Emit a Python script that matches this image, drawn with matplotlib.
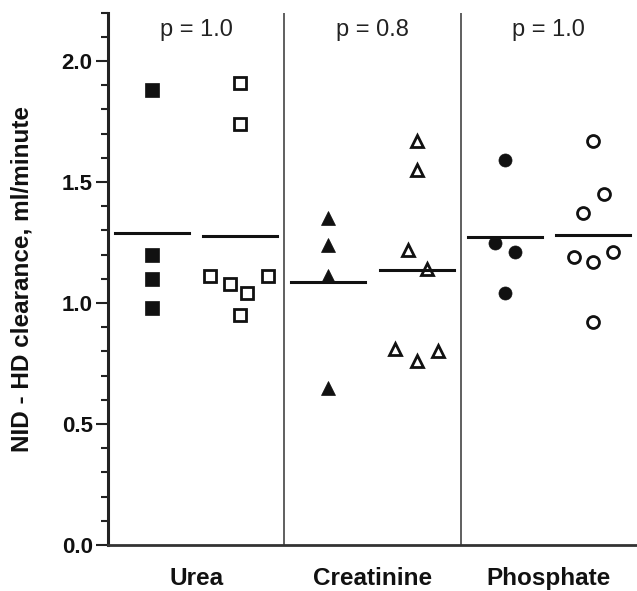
import matplotlib
matplotlib.use("Agg")
import matplotlib.pyplot as plt
import numpy as np
from matplotlib.ticker import MultipleLocator

plt.rcParams['font.family'] = ['Liberation Sans', 'DejaVu Sans']

categories = ['Urea', 'Creatinine', 'Phosphate']
p_labels = ['p = 1.0', 'p = 0.8', 'p = 1.0']

urea_filled = [1.88, 1.20, 1.10, 0.98]
urea_open = [1.91, 1.74, 1.11, 1.08, 1.04, 1.11, 0.95]
creat_filled = [1.35, 1.24, 1.11, 0.65]
creat_open = [1.67, 1.55, 1.22, 1.14, 0.81, 0.76, 0.80]
phos_filled = [1.59, 1.25, 1.21, 1.04]
phos_open = [1.67, 1.45, 1.37, 1.19, 1.17, 1.21, 0.92]

# horizontal jitter of the points within each column
urea_filled_dx = [0, 0, 0, 0]
urea_open_dx = [0, 0, -0.17, -0.06, 0.04, 0.16, 0]
creat_filled_dx = [0, 0, 0, 0]
creat_open_dx = [0, 0, -0.05, 0.06, -0.12, 0, 0.12]
phos_filled_dx = [0, -0.055, 0.06, 0]
phos_open_dx = [0, 0.065, -0.055, -0.11, 0, 0.115, 0]

filled = [urea_filled, creat_filled, phos_filled]
opened = [urea_open, creat_open, phos_open]
filled_dx = [urea_filled_dx, creat_filled_dx, phos_filled_dx]
open_dx = [urea_open_dx, creat_open_dx, phos_open_dx]
markers = ['s', '^', 'o']

fig = plt.figure(figsize=(6.37, 5.91), dpi=100)
ax = fig.add_axes([0.1695, 0.0778, 0.8305, 0.9009])

for i in range(3):
    cf = i + 0.25
    co = i + 0.75
    xf = cf + np.array(filled_dx[i])
    xo = co + np.array(open_dx[i])
    ax.plot(xf, filled[i], linestyle='none', marker=markers[i], ms=9.4,
            mfc='#111111', mec='#111111', mew=0.5, zorder=3)
    ax.plot(xo, opened[i], linestyle='none', marker=markers[i], ms=8.6,
            mfc='white', mec='#111111', mew=2.0, zorder=3)
    ax.plot([cf - 0.21, cf + 0.21], [np.mean(filled[i])] * 2, color='#111111', lw=2.2, zorder=4)
    ax.plot([co - 0.21, co + 0.21], [np.mean(opened[i])] * 2, color='#111111', lw=2.2, zorder=4)
    ax.text(i + 0.5, 2.105, p_labels[i], ha='center', va='baseline', fontsize=17, color='#222222')

for xv in [1, 2]:
    ax.axvline(xv, color='#444444', lw=1.2, zorder=1)

ax.set_xlim(0, 3)
ax.set_ylim(0, 2.2)
ax.set_xticks([0.5, 1.5, 2.5])
ax.set_xticklabels(categories, fontsize=17.5, fontweight='bold', color='#111111')
ax.tick_params(axis='x', length=0, pad=16)
ax.yaxis.set_major_locator(MultipleLocator(0.5))
ax.yaxis.set_minor_locator(MultipleLocator(0.1))
ax.set_yticks([0.0, 0.5, 1.0, 1.5, 2.0])
ax.set_yticklabels(['0.0', '0.5', '1.0', '1.5', '2.0'], fontsize=16, fontweight='bold', color='#111111')
ax.tick_params(axis='y', which='major', length=9, width=1.5, color='#222222', pad=2)
ax.tick_params(axis='y', which='minor', length=5, width=1.5, color='#222222')
ax.set_ylabel('NID - HD clearance, ml/minute', fontsize=17.5, fontweight='bold', color='#111111', labelpad=20)

for s in ['top', 'right']:
    ax.spines[s].set_visible(False)
ax.spines['left'].set_linewidth(2.2)
ax.spines['left'].set_color('#222222')
ax.spines['bottom'].set_linewidth(2.0)
ax.spines['bottom'].set_color('#333333')

fig.savefig('out.png', dpi=100)
